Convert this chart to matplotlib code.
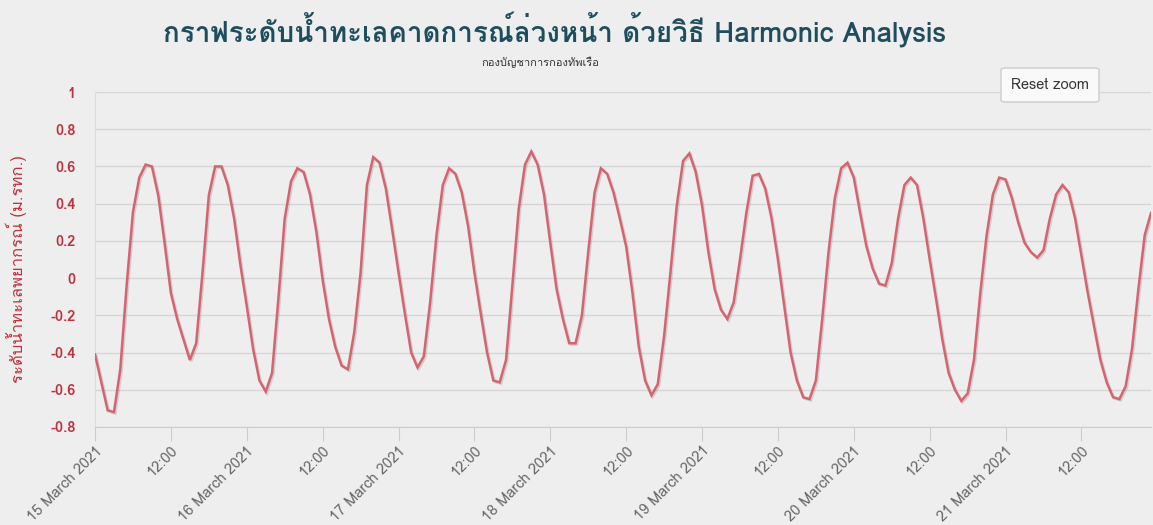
import numpy as np
import pandas as pd
import matplotlib
matplotlib.use("Agg")
import matplotlib.pyplot as plt
import matplotlib.dates as mdates
import matplotlib.patheffects as pe
from matplotlib import font_manager as fm
from matplotlib.ft2font import FT2Font
from matplotlib.patches import FancyBboxPatch

# hourly predicted tide level (m), one list per day
mar15 = [-0.41, -0.56, -0.71, -0.72, -0.49, -0.04, 0.355, 0.54, 0.61, 0.60, 0.445, 0.19,
         -0.08, -0.22, -0.33, -0.44, -0.35, 0.03, 0.445, 0.60, 0.60, 0.50, 0.32, 0.07]
mar16 = [-0.15, -0.38, -0.55, -0.61, -0.51, -0.11, 0.32, 0.52, 0.59, 0.57, 0.45, 0.25,
         -0.01, -0.22, -0.37, -0.47, -0.49, -0.29, 0.03, 0.50, 0.65, 0.62, 0.48, 0.26]
mar17 = [0.03, -0.19, -0.40, -0.48, -0.42, -0.13, 0.23, 0.50, 0.59, 0.56, 0.46, 0.28,
         0.03, -0.19, -0.40, -0.55, -0.56, -0.44, -0.04, 0.37, 0.61, 0.68, 0.61, 0.45]
mar18 = [0.19, -0.06, -0.22, -0.35, -0.35, -0.20, 0.14, 0.46, 0.59, 0.56, 0.46, 0.32,
         0.17, -0.08, -0.37, -0.55, -0.63, -0.57, -0.31, 0.03, 0.39, 0.63, 0.67, 0.57]
mar19 = [0.39, 0.14, -0.06, -0.17, -0.22, -0.13, 0.10, 0.35, 0.55, 0.56, 0.48, 0.32,
         0.10, -0.15, -0.40, -0.55, -0.64, -0.65, -0.55, -0.22, 0.14, 0.43, 0.59, 0.62]
mar20 = [0.54, 0.35, 0.17, 0.05, -0.03, -0.04, 0.08, 0.32, 0.50, 0.54, 0.50, 0.32,
         0.10, -0.11, -0.33, -0.51, -0.60, -0.66, -0.62, -0.44, -0.08, 0.23, 0.45, 0.54]
mar21 = [0.53, 0.43, 0.30, 0.19, 0.14, 0.11, 0.15, 0.32, 0.45, 0.50, 0.46, 0.32,
         0.12, -0.08, -0.26, -0.44, -0.56, -0.64, -0.65, -0.58, -0.38, -0.06, 0.23, 0.35]

levels = mar15 + mar16 + mar17 + mar18 + mar19 + mar20 + mar21
times = pd.date_range("2021-03-15 00:00", periods=len(levels), freq="h")

title = "กราฟระดับน้ำทะเลคาดการณ์ล่วงหน้า ด้วยวิธี Harmonic Analysis"
subtitle = "กองบัญชาการกองทัพเรือ"
ylabel = "ระดับน้ำทะเลพยากรณ์ (ม.รทก.)"
yticks = [-0.8, -0.6, -0.4, -0.2, 0, 0.2, 0.4, 0.6, 0.8, 1]


def thai_fonts():
    names = []
    for f in fm.fontManager.ttflist:
        try:
            if 0x0E01 in FT2Font(f.fname).get_charmap() and f.name not in names:
                names.append(f.name)
        except Exception:
            pass
    return names


thai = thai_fonts()
fam = thai[:1] + ["Open Sans", "DejaVu Sans"]
plt.rcParams["font.family"] = fam

bg = "#eeeeee"
fig = plt.figure(figsize=(11.53, 5.25), dpi=100, facecolor=bg)
ax = fig.add_axes([95 / 1153, 1 - 427 / 525, 1056 / 1153, 335 / 525])
ax.set_facecolor(bg)

ax.plot(times, levels, color="#d6646f", lw=1.8, solid_joinstyle="miter",
        path_effects=[pe.SimpleLineShadow(offset=(1, -1), shadow_color="#888888", alpha=0.3),
                      pe.Normal()], zorder=3)

ax.set_xlim(times[0], times[-1])
ax.set_ylim(-0.8, 1)
ax.set_yticks(yticks)
ax.yaxis.set_major_formatter(plt.FuncFormatter(lambda v, p: f"{v:g}"))
ax.grid(axis="y", color="#d6d6d6", lw=1)
ax.tick_params(axis="y", length=0, pad=14, labelsize=10.5, labelcolor="#c0303c")
for lab in ax.get_yticklabels():
    lab.set_fontweight("bold")

ax.xaxis.set_major_locator(mdates.HourLocator(byhour=[0, 12]))


def fmt_date(x, pos):
    d = mdates.num2date(x)
    return f"{d.day} March {d.year}" if d.hour == 0 else d.strftime("%H:%M")


ax.xaxis.set_major_formatter(plt.FuncFormatter(fmt_date))
ax.tick_params(axis="x", length=10, color="#cccccc", labelsize=10.5, labelcolor="#666666", pad=2)
for lab in ax.get_xticklabels():
    lab.set_rotation(45)
    lab.set_ha("right")
    lab.set_rotation_mode("anchor")

for s in ["top", "right"]:
    ax.spines[s].set_visible(False)
ax.spines["bottom"].set_color("#cccccc")
ax.spines["left"].set_color("#dddddd")

ax.set_ylabel(ylabel, color="#c0303c", fontsize=12)
ax.yaxis.set_label_coords(-0.064, 0.47)

fig.text(555 / 1153, 1 - 30 / 525, title, ha="center", va="center",
         fontsize=20, fontweight="bold", color="#1e4e5e")
fig.text(540 / 1153, 1 - 62 / 525, subtitle, ha="center", va="center",
         fontsize=8, color="#333333")

btn = FancyBboxPatch((1001 / 1153, 1 - 102 / 525), 98 / 1153, 34 / 525,
                     boxstyle="round,pad=0,rounding_size=0.004", transform=fig.transFigure,
                     facecolor="#f9f9f9", edgecolor="#cccccc", lw=1, zorder=5)
fig.patches.append(btn)
fig.text(1050 / 1153, 1 - 85 / 525, "Reset zoom", ha="center", va="center",
         fontsize=10.5, color="#333333", zorder=6)

fig.savefig("out.png", dpi=100, facecolor=bg)
